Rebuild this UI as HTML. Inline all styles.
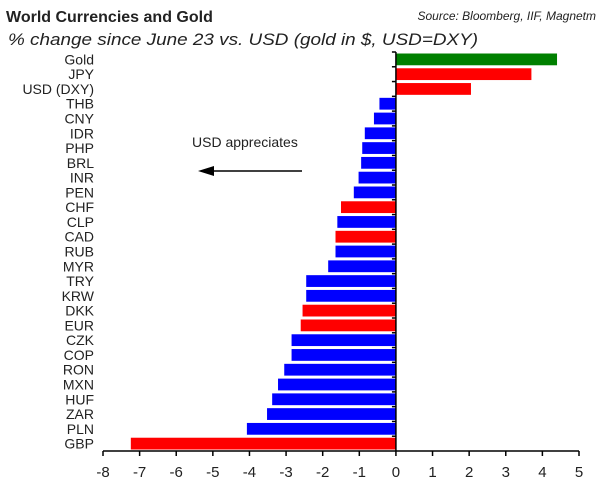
<!DOCTYPE html>
<html><head><meta charset="utf-8"><style>
body{margin:0;background:#fff;width:600px;height:488px;overflow:hidden;font-family:"Liberation Sans",sans-serif}
</style></head><body>
<svg id="c" width="600" height="488" xmlns="http://www.w3.org/2000/svg">
<text x="6" y="22" font-size="16" font-weight="bold" fill="#222">World Currencies and Gold</text>
<text x="596" y="20" font-size="12" font-style="italic" text-anchor="end" fill="#222">Source: Bloomberg, IIF, Magnetm</text>
<text x="8" y="45" font-size="17" font-style="italic" fill="#222" textLength="470" lengthAdjust="spacingAndGlyphs">% change since June 23 vs. USD (gold in $, USD=DXY)</text>
<text x="192" y="147" font-size="14" fill="#222">USD appreciates</text>
<line x1="212" y1="171" x2="302" y2="171" stroke="#000" stroke-width="1.5"/>
<polygon points="198,171 214,166 214,176" fill="#000"/>
<g id="bars"></g>
</svg>
<script>
const categories=["Gold","JPY","USD (DXY)","THB","CNY","IDR","PHP","BRL","INR","PEN","CHF","CLP","CAD","RUB","MYR","TRY","KRW","DKK","EUR","CZK","COP","RON","MXN","HUF","ZAR","PLN","GBP"];
const values=[4.4,3.7,2.05,-0.45,-0.6,-0.85,-0.92,-0.95,-1.02,-1.15,-1.5,-1.6,-1.65,-1.65,-1.85,-2.45,-2.45,-2.55,-2.6,-2.85,-2.85,-3.05,-3.22,-3.38,-3.52,-4.07,-7.24];
const colors=["#008000","#ff0000","#ff0000","#0000ff","#0000ff","#0000ff","#0000ff","#0000ff","#0000ff","#0000ff","#ff0000","#0000ff","#ff0000","#0000ff","#0000ff","#0000ff","#0000ff","#ff0000","#ff0000","#0000ff","#0000ff","#0000ff","#0000ff","#0000ff","#0000ff","#0000ff","#ff0000"];
const ticks=[-8,-7,-6,-5,-4,-3,-2,-1,0,1,2,3,4,5];
const NS="http://www.w3.org/2000/svg";
const gBars=document.getElementById('bars');
const xs=v=>103+(v+8)*(579-103)/13;
const plotTop=52,plotBot=451,band=(plotBot-plotTop)/categories.length;
const ys=i=>plotTop+i*band;
function mk(t,a){const e=document.createElementNS(NS,t);for(const k in a)e.setAttribute(k,a[k]);gBars.appendChild(e);return e;}
categories.forEach((c,i)=>{
 const v=values[i];
 const r=mk('rect',{x:Math.min(xs(0),xs(v)),y:ys(i)+1.5,width:Math.abs(xs(v)-xs(0)),height:band-3,fill:colors[i]});
 
 
 const t=mk('text',{x:94,y:ys(i)+band/2+5,'font-size':14,'text-anchor':'end',fill:'#222'});
 t.textContent=c;
 
 
 const tk=mk('line',{x1:xs(0)-4,x2:xs(0),y1:ys(i),y2:ys(i),stroke:'#000','stroke-width':1.5});
 
 
});
const ya=mk('line',{x1:xs(0),x2:xs(0),y1:plotTop,y2:plotBot,stroke:'#000','stroke-width':1.5});


const xa=mk('line',{x1:xs(-8),x2:xs(5),y1:plotBot,y2:plotBot,stroke:'#000','stroke-width':1.5});


ticks.forEach(v=>{
 const l=mk('line',{x1:xs(v),x2:xs(v),y1:plotBot,y2:plotBot+5,stroke:'#000','stroke-width':1.5});
 
 
 const t=mk('text',{x:xs(v),y:plotBot+26,'font-size':15,'text-anchor':'middle',fill:'#222'});
 t.textContent=v;
 
 
});
</script>
</body></html>
